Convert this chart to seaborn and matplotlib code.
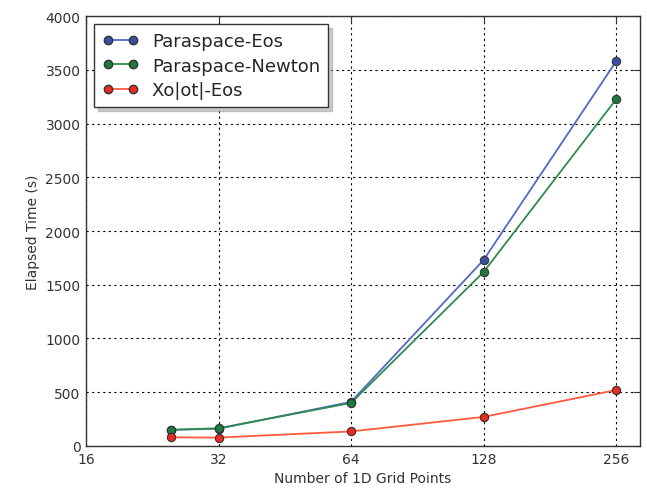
import matplotlib
matplotlib.use("Agg")
import matplotlib.pyplot as plt
import seaborn as sns
import pandas as pd

grid_points = [25, 32, 64, 128, 256]
paraspace_eos = [150, 160, 410, 1730, 3578]
paraspace_newton = [150, 165, 400, 1618, 3225]
xolotl_eos = [80, 78, 135, 270, 520]

series_names = ["Paraspace-Eos", "Paraspace-Newton", "Xo|ot|-Eos"]
x_ticks = [16, 32, 64, 128, 256]
y_ticks = [0, 500, 1000, 1500, 2000, 2500, 3000, 3500, 4000]

line_colors = ["#5468c8", "#2e8b4e", "#ff5a3c"]
marker_colors = ["#3a4fa8", "#1f7a3e", "#e82a20"]

df = pd.DataFrame({
    "x": grid_points * 3,
    "y": paraspace_eos + paraspace_newton + xolotl_eos,
    "series": [s for s in series_names for _ in grid_points],
})

sns.set_style("white")
plt.rcParams["font.family"] = ["DejaVu Sans"]

fig = plt.figure(figsize=(6.47, 4.89), dpi=100)
ax = fig.add_axes([0.133, 0.086, 0.856, 0.879])

sns.lineplot(data=df, x="x", y="y", hue="series", palette=dict(zip(series_names, line_colors)),
             ax=ax, legend=False, linewidth=1.3)
for name, mc in zip(series_names, marker_colors):
    sub = df[df.series == name]
    ax.plot(sub.x, sub.y, linestyle="none", marker="o", markersize=6,
            markerfacecolor=mc, markeredgecolor="#333333", markeredgewidth=0.8)

ax.set_xscale("log", base=2)
ax.set_xlim(16, 290)
ax.set_xticks(x_ticks)
ax.set_xticklabels([str(t) for t in x_ticks])
ax.minorticks_off()
ax.set_ylim(0, 4000)
ax.set_yticks(y_ticks)
ax.grid(True, color="black", linestyle=(0, (2, 3)), linewidth=0.8)
ax.tick_params(direction="in", top=True, right=True, length=5, labelsize=10, colors="#333333",
               pad=4)
for sp in ax.spines.values():
    sp.set_color("#333333")
    sp.set_linewidth(1.0)

ax.set_xlabel("Number of 1D Grid Points", fontsize=10, color="#333333")
ax.set_ylabel("Elapsed Time (s)", fontsize=10, color="#333333")

handles = [plt.Line2D([], [], color=lc, marker="o", markerfacecolor=mc, markeredgecolor="#333333",
                      markersize=6, linewidth=1.3)
           for lc, mc in zip(line_colors, marker_colors)]
leg = ax.legend(handles, series_names, loc="upper left", fontsize=13, frameon=True, fancybox=False,
                shadow={"ox": 3, "oy": -3, "color": "#999999"}, numpoints=2,
                borderaxespad=0.45, handlelength=2.0, labelspacing=0.35, handletextpad=0.75,
                borderpad=0.45)
leg.get_frame().set_edgecolor("#333333")
leg.get_frame().set_linewidth(1.0)

fig.savefig("out.png", dpi=100)
